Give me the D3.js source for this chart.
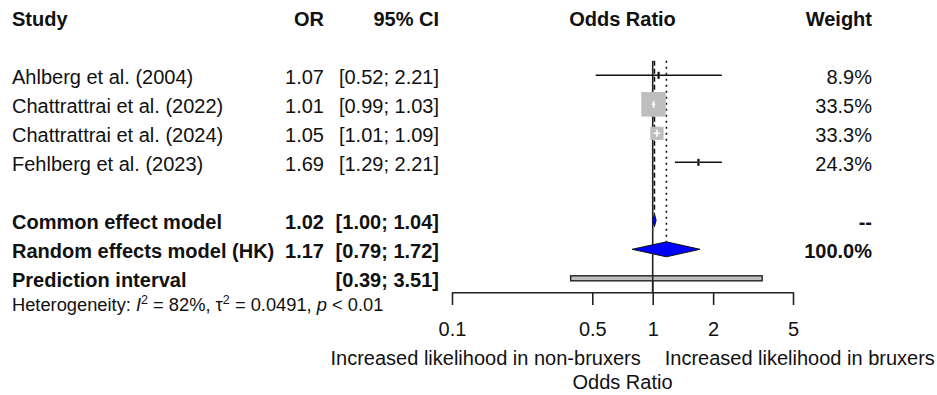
<!DOCTYPE html>
<html>
<head>
<meta charset="utf-8">
<script src="https://cdn.jsdelivr.net/npm/d3@7"></script>
<style>
  html, body { margin: 0; padding: 0; background: #fff; }
  svg { display: block; font-family: "Liberation Sans", Arial, sans-serif; }
</style>
</head>
<body>
<div id="chart"></div>
<script>
// study rows
const studies = ["Ahlberg et al. (2004)", "Chattrattrai et al. (2022)", "Chattrattrai et al. (2024)", "Fehlberg et al. (2023)"];
const orValues = [1.07, 1.01, 1.05, 1.69];
const ciLower = [0.52, 0.99, 1.01, 1.29];
const ciUpper = [2.21, 1.03, 1.09, 2.21];
const weights = ["8.9%", "33.5%", "33.3%", "24.3%"];

// pooled rows
const summaryLabels = ["Common effect model", "Random effects model (HK)", "Prediction interval"];
const summaryEst = [1.02, 1.17, null];
const summaryLower = [1.00, 0.79, 0.39];
const summaryUpper = [1.04, 1.72, 3.51];
const summaryWeights = ["--", "100.0%", ""];

const hetI2 = "82%";
const hetTau2 = "0.0491";
const hetP = "< 0.01";

const tickValues = [0.1, 0.5, 1, 2, 5];
const leftLabel = "Increased likelihood in non-bruxers";
const rightLabel = "Increased likelihood in bruxers";
const axisTitle = "Odds Ratio";

const width = 937, height = 395;
const fs = 20;

const svg = d3.select("#chart").append("svg")
  .attr("width", width)
  .attr("height", height);

const x = d3.scaleLog().domain([0.1, 5]).range([452, 793]);
// row index -> y centre
const row = d3.scaleLinear().domain([0, 1]).range([17.3, 46.3]);

const colStudy = 12, colOR = 324, colCI = 439, colW = 872;
const fmt2 = d3.format(".2f");
const ciText = (lo, hi) => `[${fmt2(lo)}; ${fmt2(hi)}]`;

function txt(xp, yc, s, anchor, bold, size) {
  return svg.append("text")
    .attr("x", xp)
    .attr("y", yc + 8.5)
    .attr("text-anchor", anchor)
    .attr("font-size", size || fs)
    .attr("font-weight", bold ? "bold" : "normal")
    .attr("fill", "#111")
    .text(s);
}

// header
txt(colStudy, row(0), "Study", "start", true);
txt(colOR, row(0), "OR", "end", true);
txt(colCI, row(0), "95% CI", "end", true);
txt((x.range()[0] + x.range()[1]) / 2, row(0), "Odds Ratio", "middle", true);
txt(colW, row(0), "Weight", "end", true);

// study text
studies.forEach((s, i) => {
  const y = row(i + 2);
  txt(colStudy, y, s, "start", false);
  txt(colOR, y, fmt2(orValues[i]), "end", false);
  txt(colCI, y, ciText(ciLower[i], ciUpper[i]), "end", false);
  txt(colW, y, weights[i], "end", false);
});

// summary text
summaryLabels.forEach((s, i) => {
  const y = row(i + 7);
  txt(colStudy, y, s, "start", true);
  if (summaryEst[i] != null) txt(colOR, y, fmt2(summaryEst[i]), "end", true);
  txt(colCI, y, ciText(summaryLower[i], summaryUpper[i]), "end", true);
  if (summaryWeights[i]) txt(colW, y, summaryWeights[i], "end", true);
});

// heterogeneity line
const het = svg.append("text")
  .attr("x", colStudy)
  .attr("y", 311)
  .attr("font-size", 18.3)
  .attr("fill", "#111");
het.append("tspan").text("Heterogeneity: ");
het.append("tspan").attr("font-style", "italic").text("I");
het.append("tspan").attr("font-size", 12.5).attr("dy", -7).text("2");
het.append("tspan").attr("dy", 7).text(" = " + hetI2 + ", \u03c4");
het.append("tspan").attr("font-size", 12.5).attr("dy", -7).text("2");
het.append("tspan").attr("dy", 7).text(" = " + hetTau2 + ", ");
het.append("tspan").attr("font-style", "italic").text("p");
het.append("tspan").text(" " + hetP);

const plotTop = row(2) - 14.5;

// reference lines
svg.append("line")
  .attr("x1", x(1)).attr("x2", x(1))
  .attr("y1", plotTop).attr("y2", 292.3)
  .attr("stroke", "#222").attr("stroke-width", 1.6);

svg.append("line")
  .attr("x1", x(summaryEst[0])).attr("x2", x(summaryEst[0]))
  .attr("y1", plotTop).attr("y2", row(7) - 6.5)
  .attr("stroke", "#111").attr("stroke-width", 1.6)
  .attr("stroke-dasharray", "5,3");

svg.append("line")
  .attr("x1", x(summaryEst[1])).attr("x2", x(summaryEst[1]))
  .attr("y1", plotTop).attr("y2", row(8) - 7.5)
  .attr("stroke", "#111").attr("stroke-width", 1.6)
  .attr("stroke-dasharray", "2,4");

// square size from inverse-variance weights of each CI
const invVar = ciLower.map((lo, i) => {
  const se = (Math.log(ciUpper[i]) - Math.log(lo)) / (2 * 1.96);
  return 1 / (se * se);
});
const side = d3.scaleSqrt().domain([0, d3.max(invVar)]).range([0, 23.5]);

studies.forEach((s, i) => {
  const y = row(i + 2);
  const cx = x(orValues[i]);
  const w = side(invVar[i]);
  const g = svg.append("g");
  g.append("line")
    .attr("x1", x(ciLower[i])).attr("x2", x(ciUpper[i]))
    .attr("y1", y).attr("y2", y)
    .attr("stroke", "#111").attr("stroke-width", 1.6);
  g.append("rect")
    .attr("x", cx - w / 2).attr("y", y - w / 2)
    .attr("width", w).attr("height", w)
    .attr("fill", "#bebebe").attr("stroke", "#bebebe");
  const inside = w > 9;
  const lc = inside ? "#fff" : "#111";
  if (inside) {
    g.append("line")
      .attr("x1", Math.max(x(ciLower[i]), cx - w / 2)).attr("x2", Math.min(x(ciUpper[i]), cx + w / 2))
      .attr("y1", y).attr("y2", y)
      .attr("stroke", lc).attr("stroke-width", 1.6);
  }
  g.append("line")
    .attr("x1", cx).attr("x2", cx)
    .attr("y1", y - 3.5).attr("y2", y + 3.5)
    .attr("stroke", lc).attr("stroke-width", inside ? 1.6 : 2.2);
});

// diamonds
const poly = d3.line().x(d => x(d[0])).y(d => d[1]);
[0, 1].forEach(i => {
  const y = row(i + 7);
  const h = i === 0 ? 6.5 : 7.5;
  const pts = [
    [summaryLower[i], y], [summaryEst[i], y - h],
    [summaryUpper[i], y], [summaryEst[i], y + h]
  ];
  svg.append("path")
    .attr("d", poly(pts) + "Z")
    .attr("fill", "#0000ff")
    .attr("stroke", "#111")
    .attr("stroke-width", 1);
});

// prediction interval
svg.append("rect")
  .attr("x", x(summaryLower[2]))
  .attr("y", row(9) - 2.5)
  .attr("width", x(summaryUpper[2]) - x(summaryLower[2]))
  .attr("height", 5)
  .attr("fill", "#bebebe")
  .attr("stroke", "#222")
  .attr("stroke-width", 1.4);

// redraw solid line segment over prediction bar
svg.append("line")
  .attr("x1", x(1)).attr("x2", x(1))
  .attr("y1", row(9) - 3).attr("y2", 292.3)
  .attr("stroke", "#222").attr("stroke-width", 1.6);

// axis
const axis = svg.append("g")
  .attr("transform", "translate(0,292.3)")
  .call(d3.axisBottom(x)
    .tickValues(tickValues)
    .tickFormat(d => String(d))
    .tickSize(12.7)
    .tickSizeOuter(0));
axis.select(".domain").attr("stroke", "#222").attr("stroke-width", 1.6);
axis.selectAll(".tick line").attr("stroke", "#222").attr("stroke-width", 1.6);
axis.selectAll(".tick text")
  .attr("font-size", fs)
  .attr("font-family", "\"Liberation Sans\", Arial, sans-serif")
  .attr("fill", "#111")
  .attr("y", 43.7)
  .attr("dy", null);

svg.append("text")
  .attr("x", x(1) - 12).attr("y", 365)
  .attr("text-anchor", "end")
  .attr("font-size", fs).attr("fill", "#111")
  .text(leftLabel);
svg.append("text")
  .attr("x", x(1) + 12).attr("y", 365)
  .attr("text-anchor", "start")
  .attr("font-size", fs).attr("fill", "#111")
  .text(rightLabel);
svg.append("text")
  .attr("x", (x.range()[0] + x.range()[1]) / 2).attr("y", 389)
  .attr("text-anchor", "middle")
  .attr("font-size", fs).attr("fill", "#111")
  .text(axisTitle);
</script>
</body>
</html>
